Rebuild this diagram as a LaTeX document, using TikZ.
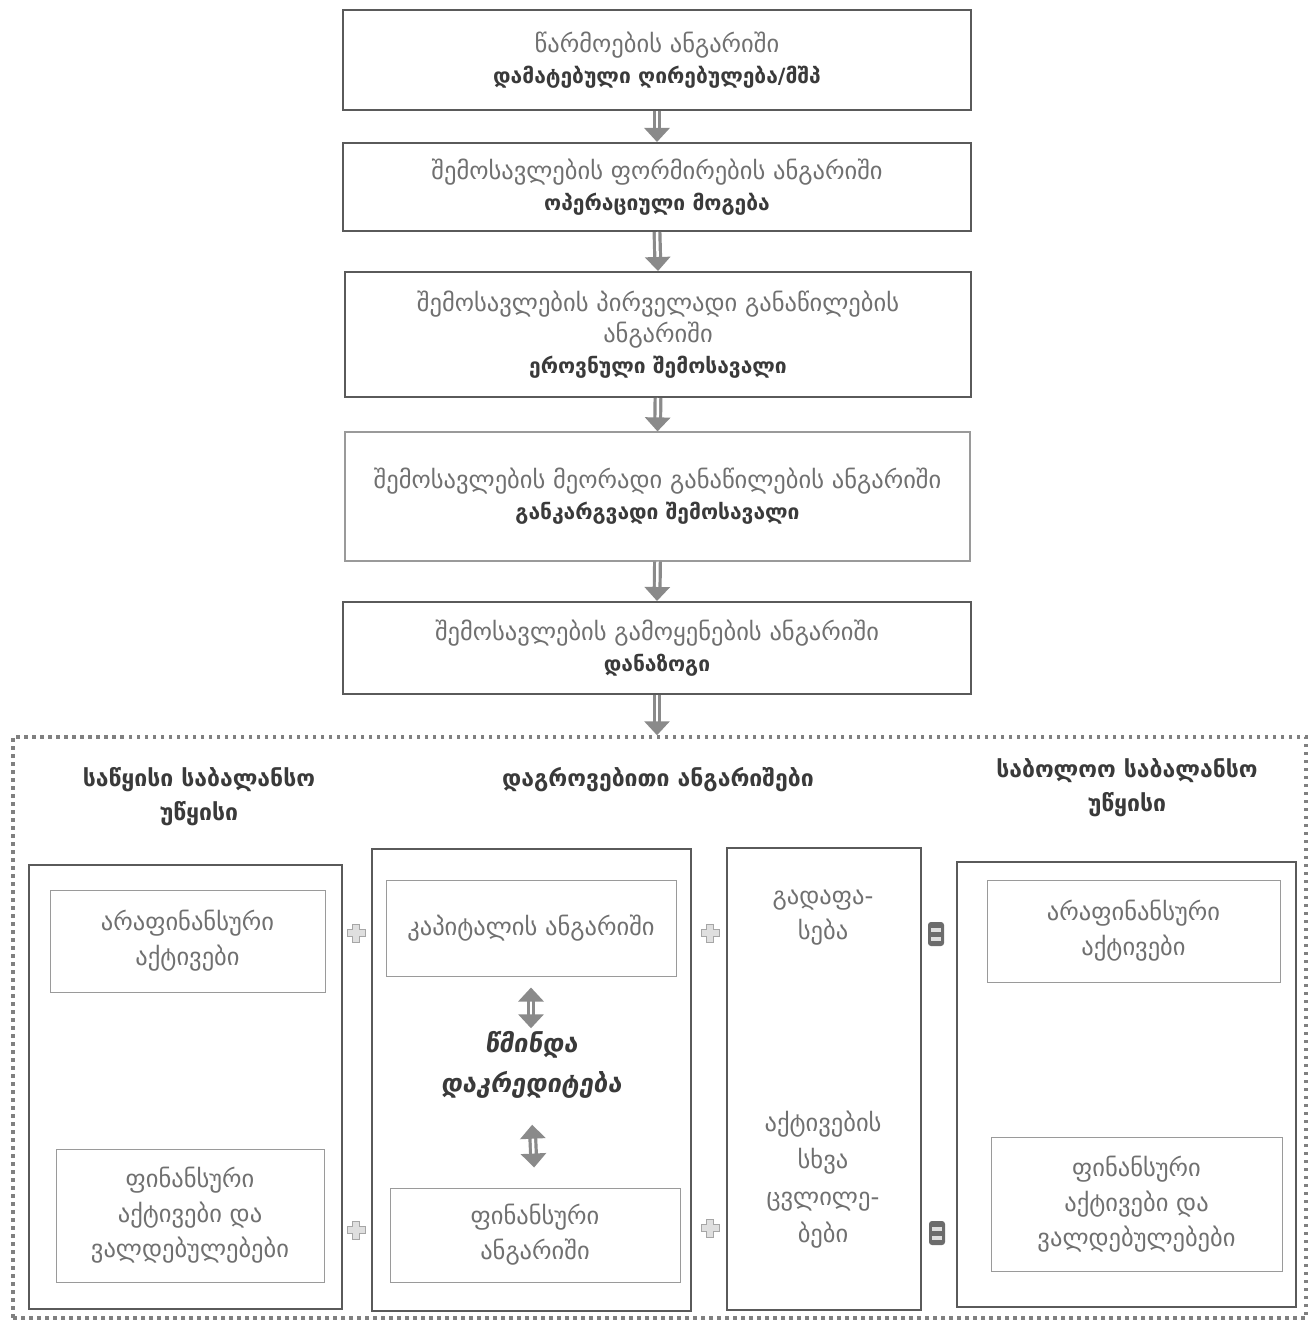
\documentclass[tikz,border=0pt]{standalone}
\usepackage{fontspec}
\setmainfont{DejaVu Sans}
\newfontfamily\geobi{DejaVu Sans Bold}[FakeSlant=0.15]
\usetikzlibrary{arrows.meta}
\definecolor{boxdark}{HTML}{5A5A5A}
\definecolor{boxlight}{HTML}{9A9A9A}
\definecolor{txtreg}{HTML}{707070}
\definecolor{txtbold}{HTML}{3A3A3A}
\definecolor{arrowgray}{HTML}{8A8A8A}
\definecolor{dotgray}{HTML}{808080}
\newcommand\bl[1]{{\color{txtbold}\fontsize{21}{31}\selectfont\bfseries #1}}
\begin{document}
\begin{tikzpicture}[x=1pt,y=-1pt,
  topbox/.style={draw=boxdark, line width=2pt, fill=white, align=center, inner sep=0pt,
     font=\fontsize{24.5}{31}\selectfont, text=txtreg},
  litebox/.style={topbox, draw=boxlight, line width=1.2pt},
  colbox/.style={draw=boxdark, line width=2.5pt, inner sep=0pt},
  innerbox/.style={draw=boxlight, line width=1pt, align=center, inner sep=0pt,
     font=\fontsize{24.5}{35}\selectfont, text=txtreg},
  hdr/.style={align=center, inner sep=0pt, font=\fontsize{23}{34}\selectfont\bfseries, text=txtbold},
  coltext/.style={align=center, inner sep=0pt, font=\fontsize{24.5}{35}\selectfont, text=txtreg},
  flowarrow/.style={draw=arrowgray, double=white, double distance=2.5pt, line width=3.2pt,
     -{Triangle[width=25pt,length=14pt]}},
  dblarrow/.style={draw=arrowgray, double=white, double distance=2.5pt, line width=3.2pt,
     {Triangle[width=25pt,length=14pt]}-{Triangle[width=25pt,length=14pt]}},
  plussign/.pic={\filldraw[fill=gray!25, draw=gray!70, line width=0.9pt]
     (-3.5,-9) -- (3.5,-9) -- (3.5,-3.5) -- (9,-3.5) -- (9,3.5) -- (3.5,3.5) -- (3.5,9) -- (-3.5,9) -- (-3.5,3.5)
     -- (-9,3.5) -- (-9,-3.5) -- (-3.5,-3.5) -- cycle;},
  eqsign/.pic={\fill[gray!85!black, rounded corners=3pt] (-8,-12) rectangle (8,12);
     \fill[gray!25] (-5,-6.5) rectangle (5,-2.5);
     \fill[gray!25] (-5,2.5) rectangle (5,6.5);}
]
\fill[white] (0,0) rectangle (1313,1324);
\useasboundingbox (0,0) rectangle (1313,1324);

% top chain
\node[topbox, minimum width=628pt, minimum height=100pt] (b1) at (657,60)
  {წარმოების ანგარიში\\\bl{დამატებული ღირებულება/მშპ}};
\node[topbox, minimum width=628pt, minimum height=88pt] (b2) at (657,187)
  {შემოსავლების ფორმირების ანგარიში\\\bl{ოპერაციული მოგება}};
\node[topbox, minimum width=626pt, minimum height=125pt] (b3) at (658,334.5)
  {შემოსავლების პირველადი განაწილების\\ანგარიში\\\bl{ეროვნული შემოსავალი}};
\node[litebox, minimum width=625pt, minimum height=129pt] (b4) at (657.5,496.5)
  {შემოსავლების მეორადი განაწილების ანგარიში\\\bl{განკარგვადი შემოსავალი}};
\node[topbox, minimum width=628pt, minimum height=92pt] (b5) at (657,648)
  {შემოსავლების გამოყენების ანგარიში\\\bl{დანაზოგი}};

% dotted frame
\node[draw=dotgray, line width=3.5pt, dash pattern=on 3.5pt off 4.5pt, inner sep=0pt,
  minimum width=1293pt, minimum height=581pt] (bal) at (659.5,1027.5) {};

\draw[flowarrow] (b1.south) -- (b2.north);
\draw[flowarrow] (b2.south) -- (b3.north);
\draw[flowarrow] (b3.south) -- (b4.north);
\draw[flowarrow] (b4.south) -- (b5.north);
\draw[flowarrow] (b5.south) -- (b5.south |- bal.north);

% headers
\node[hdr] (h1) at (199,797) {საწყისი საბალანსო\\უწყისი};
\node[hdr] (h2) at (658,780) {დაგროვებითი ანგარიშები};
\node[hdr] (h3) at (1127,788) {საბოლოო საბალანსო\\უწყისი};

% columns
\node[colbox, minimum width=313pt, minimum height=444pt] (c1) at (185.5,1087) {};
\node[colbox, minimum width=319pt, minimum height=462pt] (c2) at (531.5,1080) {};
\node[colbox, minimum width=194pt, minimum height=462pt] (c3) at (824,1079) {};
\node[colbox, minimum width=339pt, minimum height=445pt] (c4) at (1126.5,1084.5) {};

\node[innerbox, minimum width=275pt, minimum height=102pt] (c1t) at (187.5,941)
  {არაფინანსური\\აქტივები};
\node[innerbox, minimum width=268pt, minimum height=133pt] (c1b) at (190,1215.5)
  {ფინანსური\\აქტივები და\\ვალდებულებები};
\node[innerbox, minimum width=290pt, minimum height=96pt] (c2t) at (531,928)
  {კაპიტალის ანგარიში};
\node[innerbox, minimum width=290pt, minimum height=94pt] (c2b) at (535,1235)
  {ფინანსური\\ანგარიში};
\node[innerbox, minimum width=293pt, minimum height=102pt] (c4t) at (1133.5,931)
  {არაფინანსური\\აქტივები};
\node[innerbox, minimum width=291pt, minimum height=134pt] (c4b) at (1136.5,1204)
  {ფინანსური\\აქტივები და\\ვალდებულებები};

\node[align=center, inner sep=0pt, text=txtbold, font=\fontsize{25.5}{40}\selectfont\geobi] (nl) at (531,1065)
  {წმინდა\\დაკრედიტება};
\draw[dblarrow, shorten <=11pt, shorten >=3pt] (c2t.south) -- (nl.north);
\draw[dblarrow, shorten <=26pt, shorten >=20pt] (nl.south) -- (c2b.north);

\node[coltext] (c3t) at (823,918) {გადაფა-\\სება};
\node[coltext, font=\fontsize{24.5}{37}\selectfont] (c3b) at (823,1180) {აქტივების\\სხვა\\ცვლილე-\\ბები};

% operators
\pic at (356,933) {plussign};
\pic at (710,933) {plussign};
\pic at (356,1230) {plussign};
\pic at (710,1228) {plussign};
\pic at (936,934) {eqsign};
\pic at (937,1233) {eqsign};
\end{tikzpicture}
\end{document}
